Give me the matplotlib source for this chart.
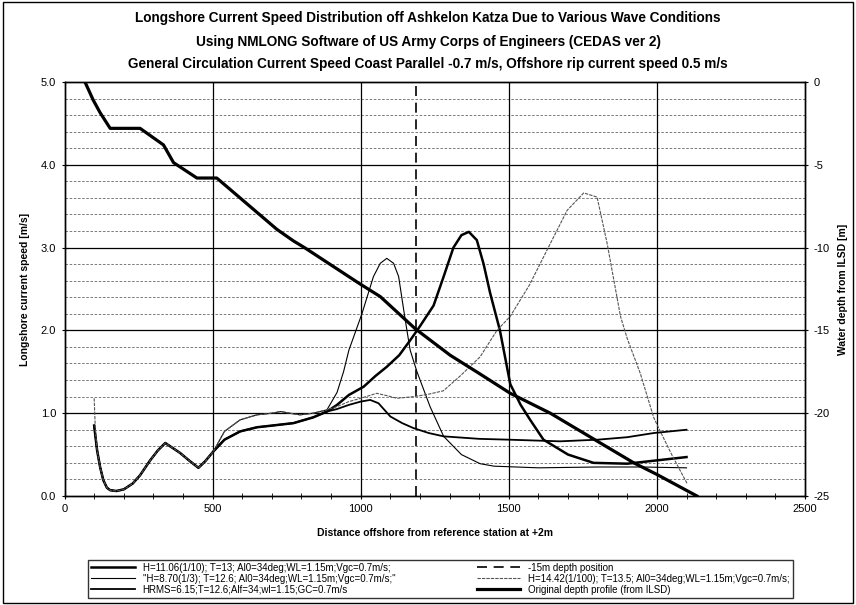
import matplotlib
matplotlib.use('Agg')
import matplotlib.pyplot as plt
from matplotlib.patches import Rectangle

plt.rcParams['font.family'] = ['Liberation Sans Narrow', 'Liberation Sans', 'DejaVu Sans']
plt.rcParams['axes.unicode_minus'] = False

# shared start of the current curves (surf zone)
x_start = [100, 110, 120, 131, 143, 154, 175, 200, 230, 255, 289, 315, 340, 365, 390, 420, 452, 475, 503]
v_start = [0.85, 0.55, 0.35, 0.19, 0.10, 0.07, 0.06, 0.08, 0.15, 0.25, 0.43, 0.55, 0.64, 0.58, 0.52, 0.43, 0.34, 0.42, 0.54]

# H=11.06
x_h11 = [540, 593, 650, 700, 773, 840, 886, 920, 960, 1010, 1050, 1088, 1130, 1167, 1200, 1246, 1280,
         1313, 1340, 1365, 1392, 1415, 1437, 1470, 1505, 1540, 1572, 1617, 1700, 1786, 1900, 2000, 2100]
v_h11 = [0.68, 0.78, 0.83, 0.85, 0.88, 0.95, 1.02, 1.10, 1.22, 1.32, 1.45, 1.56, 1.70, 1.88, 2.05, 2.30, 2.65,
         3.00, 3.15, 3.19, 3.09, 2.80, 2.45, 2.00, 1.35, 1.10, 0.92, 0.68, 0.50, 0.40, 0.39, 0.43, 0.47]

# H=8.70
x_h8 = [540, 593, 650, 700, 730, 760, 795, 840, 886, 920, 942, 960, 1004, 1043, 1066, 1088, 1111, 1128,
        1145, 1156, 1167, 1190, 1234, 1280, 1340, 1403, 1450, 1600, 1800, 1950, 2100]
v_h8 = [0.78, 0.92, 0.98, 1.00, 1.02, 1.00, 0.98, 1.00, 1.04, 1.25, 1.50, 1.76, 2.20, 2.65, 2.81, 2.87, 2.81, 2.65,
        2.25, 2.00, 1.76, 1.50, 1.08, 0.72, 0.50, 0.39, 0.36, 0.34, 0.35, 0.35, 0.34]

# HRMS=6.15
x_hrms = [540, 593, 650, 700, 773, 840, 886, 920, 960, 1000, 1032, 1060, 1100, 1140, 1178, 1230, 1280,
          1400, 1500, 1673, 1800, 1900, 1989, 2100]
v_hrms = [0.68, 0.78, 0.83, 0.85, 0.88, 0.95, 1.02, 1.05, 1.10, 1.14, 1.16, 1.12, 0.96, 0.88, 0.82, 0.76, 0.72,
          0.69, 0.68, 0.66, 0.68, 0.71, 0.76, 0.80]

# H=14.42
x_h14 = [100, 104, 540, 593, 650, 700, 730, 760, 795, 840, 886, 920, 960, 1000, 1054, 1090, 1122, 1180, 1230,
         1279, 1336, 1403, 1460, 1505, 1570, 1629, 1697, 1753, 1798, 1832, 1877, 1900, 1944, 1989, 2006, 2050, 2102]
v_h14 = [1.18, 0.80, 0.78, 0.92, 0.98, 1.00, 1.02, 1.00, 0.98, 1.00, 1.04, 1.08, 1.14, 1.18, 1.24, 1.21, 1.18, 1.20, 1.23,
         1.27, 1.45, 1.68, 2.00, 2.17, 2.55, 2.97, 3.45, 3.66, 3.61, 3.05, 2.17, 1.90, 1.48, 0.95, 0.82, 0.50, 0.15]

# original depth profile (right axis)
x_depth = [69, 97, 120, 154, 255, 334, 368, 447, 514, 717, 773, 810, 998, 1066, 1184, 1302, 1400, 1505,
           1640, 1809, 1922, 2000, 2135]
d_depth = [0, -1.1, -1.85, -2.8, -2.8, -3.8, -4.87, -5.8, -5.8, -8.9, -9.6, -10.0, -12.2, -12.96, -14.9, -16.5, -17.6, -18.8,
           -20.0, -21.8, -23.0, -23.7, -25.0]

x_15m = 1185

labels = ['H=11.06(1/10); T=13; Al0=34deg;WL=1.15m;Vgc=0.7m/s;',
          '"H=8.70(1/3); T=12.6; Al0=34deg;WL=1.15m;Vgc=0.7m/s;"',
          'HRMS=6.15;T=12.6;Alf=34;wl=1.15;GC=0.7m/s',
          '-15m depth position',
          'H=14.42(1/100); T=13.5; Al0=34deg;WL=1.15m;Vgc=0.7m/s;',
          'Original depth profile (from ILSD)']

fig = plt.figure(figsize=(8.56, 6.05), dpi=100)
ax = fig.add_axes([0.0754, 0.1802, 0.865, 0.6843])
ax2 = ax.twinx()

# grid
for v in [0.2, 0.4, 0.6, 0.8]:
    for k in range(5):
        ax.axhline(k + v, color='#666666', lw=0.6, ls=(0, (3, 2)), zorder=0)
for k in range(1, 5):
    ax.axhline(k, color='black', lw=0.9, zorder=0)
for xv in [500, 1000, 1500, 2000]:
    ax.axvline(xv, color='black', lw=0.9, zorder=0)

l1, = ax.plot(x_start + x_h11, v_start + v_h11, color='black', lw=1.8)
l2, = ax.plot(x_start + x_h8, v_start + v_h8, color='black', lw=0.8)
l3, = ax.plot(x_start + x_hrms, v_start + v_hrms, color='black', lw=1.3)
l4, = ax.plot([x_15m, x_15m], [0, 5], color='black', lw=1.2, ls=(0, (6, 4)))
l5, = ax.plot(x_h14[:2] + x_start[1:] + x_h14[2:], v_h14[:2] + v_start[1:] + v_h14[2:],
              color='#555555', lw=0.8, ls=(0, (3, 1)))
l6, = ax2.plot(x_depth, d_depth, color='black', lw=2.3)

ax.set_xlim(0, 2500)
ax.set_ylim(0, 5)
ax2.set_ylim(-25, 0)
ax.set_xticks(range(0, 2501, 500))
ax.set_xticks(range(0, 2501, 100), minor=True)
ax.set_yticks([0, 1, 2, 3, 4, 5])
ax.set_yticklabels(['0.0', '1.0', '2.0', '3.0', '4.0', '5.0'])
ax2.set_yticks([0, -5, -10, -15, -20, -25])
ax.tick_params(axis='both', which='both', direction='inout', labelsize=8, length=5)
ax.tick_params(axis='x', which='minor', length=4)
ax2.tick_params(axis='y', direction='inout', labelsize=8, length=5)
for a in (ax, ax2):
    for s in a.spines.values():
        s.set_linewidth(1.0)

ax.set_xlabel('Distance offshore from reference station at +2m', fontsize=7.5, fontweight='bold', labelpad=10)
ax.set_ylabel('Longshore current speed [m/s]', fontsize=7.5, fontweight='bold', labelpad=8)
ax2.set_ylabel('Water depth from ILSD [m]', fontsize=7.5, fontweight='bold', labelpad=6)

fig.text(0.5, 0.970, 'Longshore Current Speed Distribution off Ashkelon Katza Due to Various Wave Conditions',
         ha='center', va='center', fontsize=9.8, fontweight='bold')
fig.text(0.5, 0.931, 'Using NMLONG Software of US Army Corps of Engineers (CEDAS ver 2)',
         ha='center', va='center', fontsize=9.8, fontweight='bold')
fig.text(0.5, 0.894, 'General Circulation Current Speed Coast Parallel -0.7 m/s, Offshore rip current speed 0.5 m/s',
         ha='center', va='center', fontsize=9.8, fontweight='bold')

leg = fig.legend([l1, l2, l3, l4, l5, l6], labels, loc='lower left',
                 bbox_to_anchor=(0.103, 0.012, 0.823, 0.086), mode='expand', ncol=2,
                 fontsize=7, frameon=True, fancybox=False, borderaxespad=0,
                 handlelength=4.5, labelspacing=0.1, borderpad=0.3, columnspacing=4)
leg.get_frame().set_edgecolor('black')
leg.get_frame().set_linewidth(1.0)

fig.patches.append(Rectangle((0.003, 0.004), 0.994, 0.992, transform=fig.transFigure,
                             fill=False, edgecolor='black', lw=1.0))

fig.savefig('out.png', dpi=100)
